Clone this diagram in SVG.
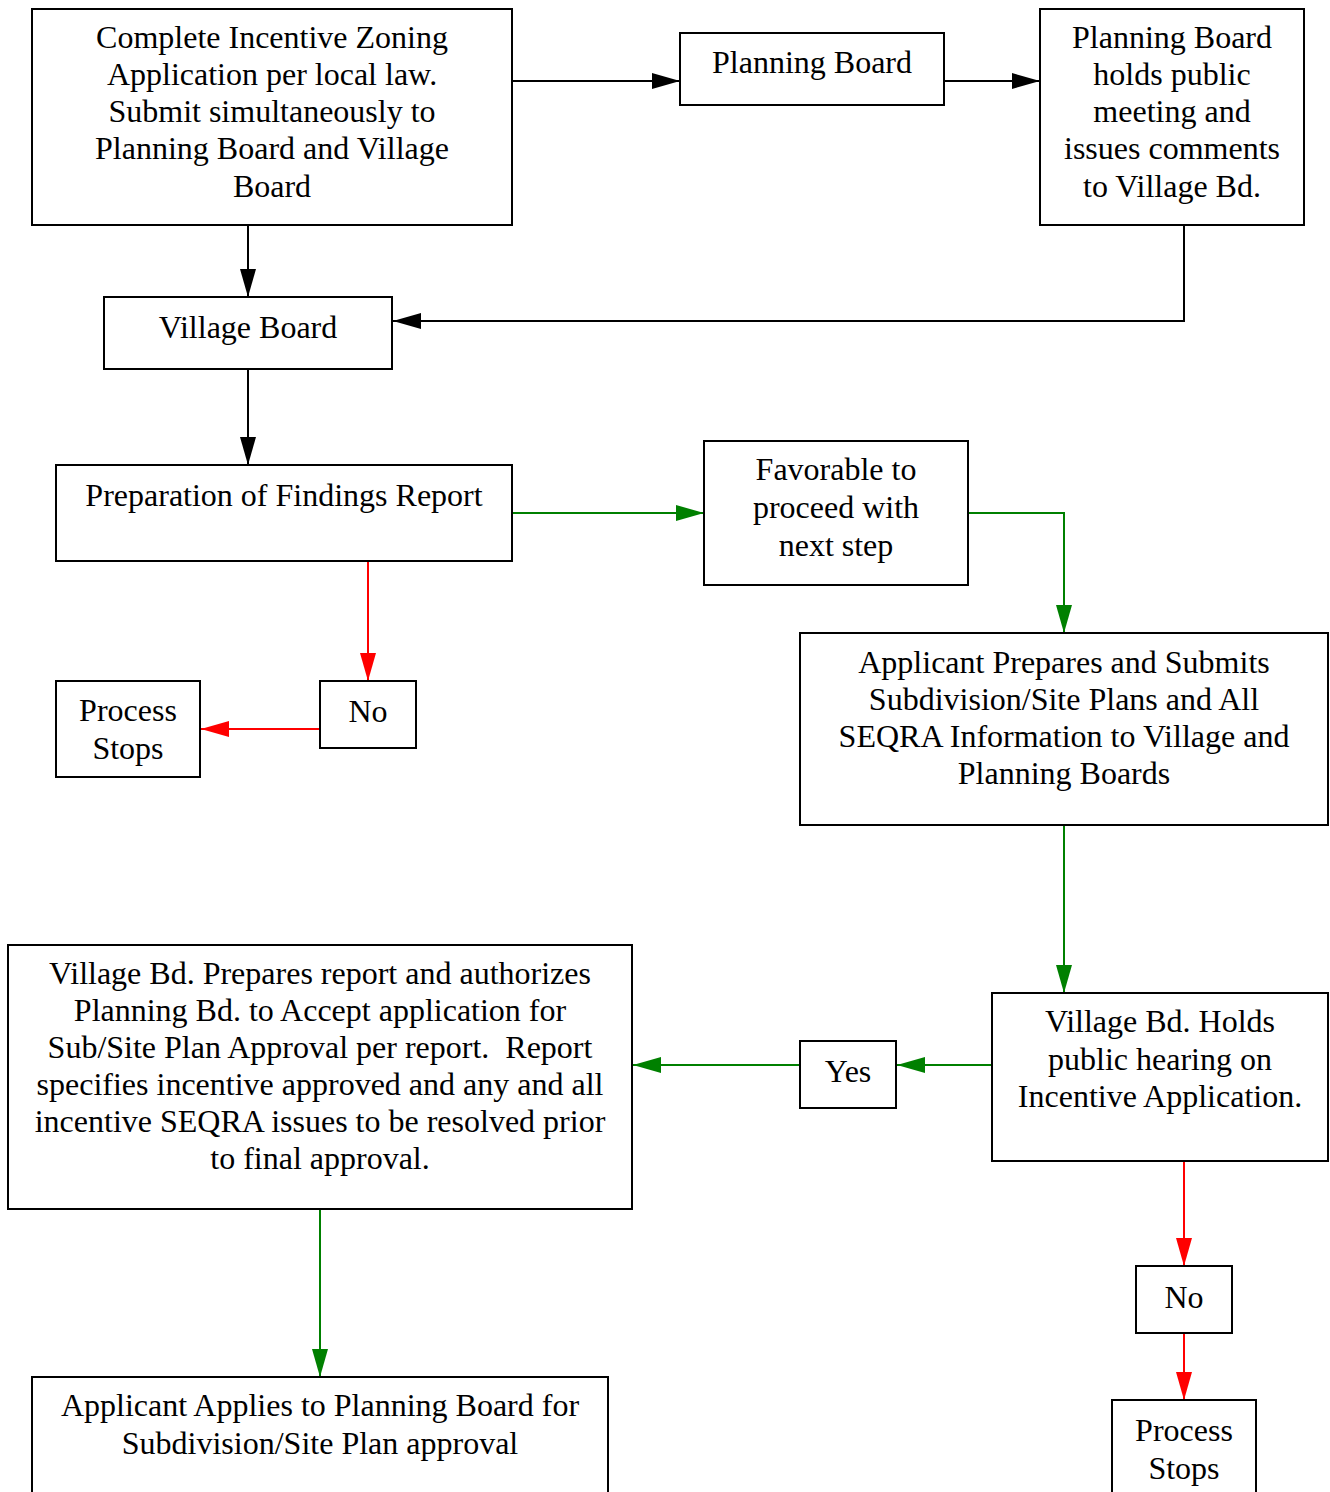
<svg xmlns="http://www.w3.org/2000/svg" width="1330" height="1492" viewBox="0 0 1330 1492">
<style>
.box{fill:#fff;stroke:#000;stroke-width:2}
text{font-family:"Liberation Serif","Times New Roman",serif;font-size:32px;fill:#000;text-anchor:middle}
.k{fill:none;stroke:#000;stroke-width:2}
.g{fill:none;stroke:#008000;stroke-width:2}
.r{fill:none;stroke:#ff0000;stroke-width:2}
</style>
<defs>
<marker id="ak" markerUnits="userSpaceOnUse" markerWidth="30" markerHeight="18" refX="28" refY="8" orient="auto"><path d="M0,0 L28,8 L0,16 Z" fill="#000"/></marker>
<marker id="ag" markerUnits="userSpaceOnUse" markerWidth="30" markerHeight="18" refX="28" refY="8" orient="auto"><path d="M0,0 L28,8 L0,16 Z" fill="#008000"/></marker>
<marker id="ar" markerUnits="userSpaceOnUse" markerWidth="30" markerHeight="18" refX="28" refY="8" orient="auto"><path d="M0,0 L28,8 L0,16 Z" fill="#ff0000"/></marker>
</defs>
<g id="connectors">
<path class="k" d="M512,81 H680" marker-end="url(#ak)"/>
<path class="k" d="M944,81 H1040" marker-end="url(#ak)"/>
<path class="k" d="M1184,225 V321 H393" marker-end="url(#ak)"/>
<path class="k" d="M248,225 V297" marker-end="url(#ak)"/>
<path class="k" d="M248,369 V465" marker-end="url(#ak)"/>
<path class="g" d="M512,513 H704" marker-end="url(#ag)"/>
<path class="g" d="M968,513 H1064 V633" marker-end="url(#ag)"/>
<path class="g" d="M1064,825 V993" marker-end="url(#ag)"/>
<path class="g" d="M992,1065 H897" marker-end="url(#ag)"/>
<path class="g" d="M800,1065 H633" marker-end="url(#ag)"/>
<path class="g" d="M320,1209 V1377" marker-end="url(#ag)"/>
<path class="r" d="M368,561 V681" marker-end="url(#ar)"/>
<path class="r" d="M320,729 H201" marker-end="url(#ar)"/>
<path class="r" d="M1184,1161 V1266" marker-end="url(#ar)"/>
<path class="r" d="M1184,1333 V1400" marker-end="url(#ar)"/>
</g>
<g id="n1"><rect class="box" x="32" y="9" width="480" height="216"/>
<text x="272" y="48">Complete Incentive Zoning</text>
<text x="272" y="85">Application per local law.</text>
<text x="272" y="122">Submit simultaneously to</text>
<text x="272" y="159">Planning Board and Village</text>
<text x="272" y="197">Board</text></g>
<g id="n2"><rect class="box" x="680" y="33" width="264" height="72"/>
<text x="812" y="73">Planning Board</text></g>
<g id="n3"><rect class="box" x="1040" y="9" width="264" height="216"/>
<text x="1172" y="48">Planning Board</text>
<text x="1172" y="85">holds public</text>
<text x="1172" y="122">meeting and</text>
<text x="1172" y="159">issues comments</text>
<text x="1172" y="197">to Village Bd.</text></g>
<g id="n4"><rect class="box" x="104" y="297" width="288" height="72"/>
<text x="248" y="338">Village Board</text></g>
<g id="n5"><rect class="box" x="56" y="465" width="456" height="96"/>
<text x="284" y="506">Preparation of Findings Report</text></g>
<g id="n6"><rect class="box" x="704" y="441" width="264" height="144"/>
<text x="836" y="480">Favorable to</text>
<text x="836" y="518">proceed with</text>
<text x="836" y="556">next step</text></g>
<g id="n7"><rect class="box" x="320" y="681" width="96" height="67"/>
<text x="368" y="722">No</text></g>
<g id="n8"><rect class="box" x="56" y="681" width="144" height="96"/>
<text x="128" y="721">Process</text>
<text x="128" y="759">Stops</text></g>
<g id="n9"><rect class="box" x="800" y="633" width="528" height="192"/>
<text x="1064" y="673">Applicant Prepares and Submits</text>
<text x="1064" y="710">Subdivision/Site Plans and All</text>
<text x="1064" y="747">SEQRA Information to Village and</text>
<text x="1064" y="784">Planning Boards</text></g>
<g id="n10"><rect class="box" x="992" y="993" width="336" height="168"/>
<text x="1160" y="1032">Village Bd. Holds</text>
<text x="1160" y="1070">public hearing on</text>
<text x="1160" y="1107">Incentive Application.</text></g>
<g id="n11"><rect class="box" x="800" y="1041" width="96" height="67"/>
<text x="848" y="1082">Yes</text></g>
<g id="n12"><rect class="box" x="8" y="945" width="624" height="264"/>
<text x="320" y="984">Village Bd. Prepares report and authorizes</text>
<text x="320" y="1021">Planning Bd. to Accept application for</text>
<text x="320" y="1058" xml:space="preserve">Sub/Site Plan Approval per report.  Report</text>
<text x="320" y="1095">specifies incentive approved and any and all</text>
<text x="320" y="1132">incentive SEQRA issues to be resolved prior</text>
<text x="320" y="1169">to final approval.</text></g>
<g id="n13"><rect class="box" x="32" y="1377" width="576" height="130"/>
<text x="320" y="1416">Applicant Applies to Planning Board for</text>
<text x="320" y="1454">Subdivision/Site Plan approval</text></g>
<g id="n14"><rect class="box" x="1136" y="1266" width="96" height="67"/>
<text x="1184" y="1308">No</text></g>
<g id="n15"><rect class="box" x="1112" y="1400" width="144" height="110"/>
<text x="1184" y="1441">Process</text>
<text x="1184" y="1479">Stops</text></g>
</svg>
